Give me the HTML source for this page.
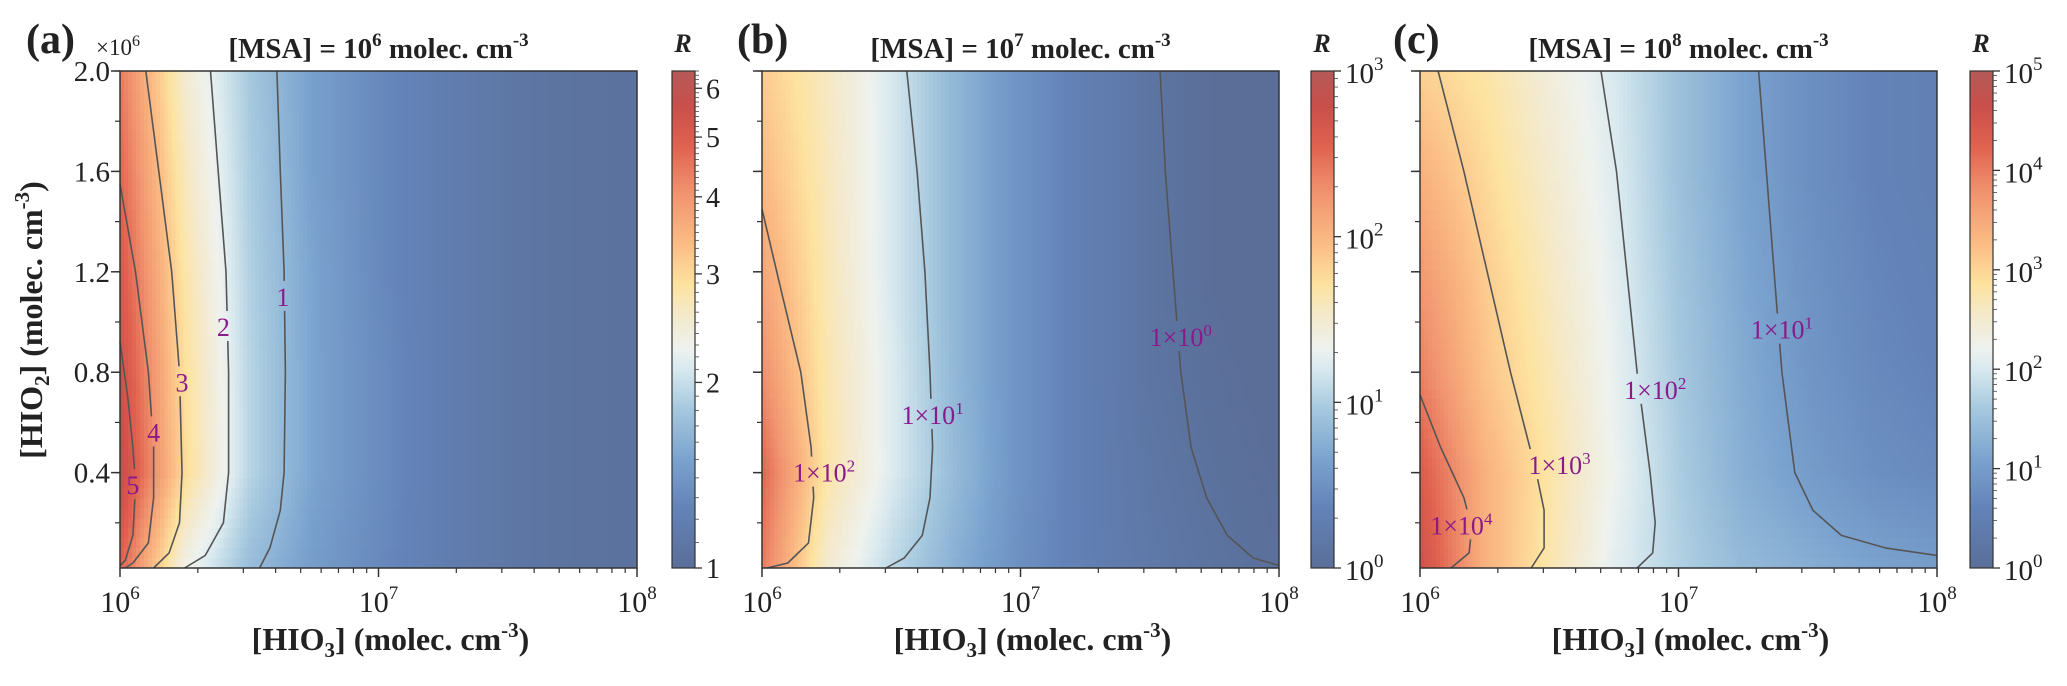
<!DOCTYPE html>
<html><head><meta charset="utf-8">
<style>
html,body{margin:0;padding:0;background:#fff;}
svg{display:block;font-family:"Liberation Serif",serif;}
</style></head>
<body>
<svg id="fig" width="2067" height="686" viewBox="0 0 2067 686" xmlns="http://www.w3.org/2000/svg">
<defs>
<linearGradient id="cmap" x1="0" y1="1" x2="0" y2="0">
<stop offset="0" stop-color="#5a6e98"/><stop offset="0.12" stop-color="#6383b8"/>
<stop offset="0.22" stop-color="#7ba3cf"/><stop offset="0.32" stop-color="#a6c9df"/>
<stop offset="0.40" stop-color="#d8e9ef"/><stop offset="0.44" stop-color="#eef2ef"/>
<stop offset="0.50" stop-color="#f3ead0"/><stop offset="0.57" stop-color="#fde3a0"/>
<stop offset="0.65" stop-color="#fbbd85"/><stop offset="0.75" stop-color="#f19570"/>
<stop offset="0.85" stop-color="#e0614f"/><stop offset="0.93" stop-color="#c94f4b"/>
<stop offset="1" stop-color="#b45a58"/>
</linearGradient>
</defs>
</svg>
<script>
// ---- data ----
const xCols = [6, 6.25, 6.5, 6.75, 7, 7.25, 7.5, 7.75, 8];   // log10 [HIO3]
const yRows = [2.0, 1.6, 1.2, 0.8, 0.4, 0.02];               // [HIO2] x1e6
// field values as fraction of colorbar (log scale) for each panel
const levelA = [
 [.80,.50,.32,.21,.14,.09,.05,.03,.02],
 [.84,.53,.33,.21,.14,.09,.05,.03,.02],
 [.88,.56,.34,.22,.14,.09,.05,.03,.02],
 [.92,.58,.35,.22,.15,.09,.05,.03,.02],
 [.95,.59,.35,.22,.15,.09,.05,.03,.02],
 [.85,.46,.29,.20,.14,.09,.05,.03,.02]];
const levelB = [
 [.62,.52,.40,.27,.17,.10,.04,.00,-.02],
 [.66,.53,.40,.27,.17,.10,.04,.00,-.02],
 [.71,.54,.40,.27,.17,.10,.04,.00,-.02],
 [.76,.55,.41,.27,.17,.10,.04,.01,-.01],
 [.84,.56,.41,.28,.17,.10,.05,.02,.00],
 [.80,.50,.36,.25,.16,.10,.06,.03,.01]];
const levelC = [
 [.61,.56,.48,.40,.30,.22,.16,.12,.10],
 [.68,.59,.50,.41,.30,.22,.16,.12,.10],
 [.74,.62,.52,.42,.31,.23,.17,.13,.11],
 [.79,.64,.54,.43,.32,.24,.18,.14,.12],
 [.87,.68,.56,.44,.33,.25,.20,.16,.14],
 [.92,.68,.55,.42,.34,.28,.25,.22,.20]];
// contour lines [log10 x, y]
const contoursA = [
 [[6.607,2.0],[6.62,1.6],[6.635,1.2],[6.64,0.8],[6.635,0.4],[6.62,0.25],[6.58,0.1],[6.54,0.02]],
 [[6.35,2.0],[6.38,1.6],[6.41,1.2],[6.42,0.8],[6.42,0.4],[6.40,0.2],[6.33,0.07],[6.25,0.02]],
 [[6.10,2.0],[6.15,1.6],[6.20,1.2],[6.23,0.8],[6.24,0.4],[6.23,0.2],[6.19,0.08],[6.13,0.02]],
 [[6.0,1.55],[6.06,1.2],[6.11,0.8],[6.13,0.5],[6.13,0.3],[6.11,0.12],[6.05,0.04],[6.02,0.02]],
 [[6.0,0.92],[6.03,0.7],[6.05,0.5],[6.06,0.35],[6.05,0.15],[6.02,0.05],[6.0,0.03]]];
const contoursB = [
 [[6.0,1.45],[6.08,1.1],[6.15,0.8],[6.19,0.5],[6.2,0.3],[6.18,0.12],[6.1,0.04],[6.02,0.02]],
 [[6.56,2.0],[6.6,1.6],[6.63,1.2],[6.65,0.8],[6.66,0.5],[6.65,0.3],[6.62,0.15],[6.55,0.06],[6.48,0.02]],
 [[7.54,2.0],[7.56,1.6],[7.59,1.2],[7.62,0.8],[7.66,0.5],[7.72,0.3],[7.8,0.15],[7.9,0.06],[8.0,0.03]]];
const contoursC = [
 [[6.0,0.71],[6.08,0.5],[6.17,0.3],[6.2,0.18],[6.19,0.08],[6.12,0.02]],
 [[6.07,2.0],[6.17,1.6],[6.26,1.2],[6.35,0.8],[6.45,0.4],[6.48,0.25],[6.48,0.1],[6.43,0.02]],
 [[6.70,2.0],[6.76,1.6],[6.80,1.2],[6.84,0.8],[6.89,0.4],[6.91,0.2],[6.9,0.08],[6.84,0.02]],
 [[7.31,2.0],[7.34,1.6],[7.37,1.2],[7.40,0.8],[7.45,0.4],[7.52,0.25],[7.63,0.15],[7.8,0.1],[8.0,0.07]]];
const labelTextA = ["1","2","3","4","5"];
const labelPosA = [[6.63,1.10],[6.40,0.98],[6.24,0.76],[6.13,0.56],[6.05,0.35]];
const labelExpB = ["2","1","0"];
const labelPosB = [[6.24,0.40],[6.66,0.63],[7.62,0.94]];
const labelExpC = ["4","3","2","1"];
const labelPosC = [[6.16,0.19],[6.54,0.43],[6.91,0.73],[7.40,0.97]];
const yTicks = [0.4, 0.8, 1.2, 1.6, 2.0];
const xTickExp = [6, 7, 8];
const cbTicksA = [1,2,3,4,5,6];
const cbExpB = [0,1,2,3];
const cbExpC = [0,1,2,3,4,5];

// ---- layout ----
const TOP=71, BOT=568, W=517, YMIN=0.02, YMAX=2.0;
const panels = [
 {id:'a', x0:120, cb:672, lev:levelA, cont:contoursA, cbMax:Math.log10(6.4), lx:26},
 {id:'b', x0:762, cb:1311, lev:levelB, cont:contoursB, cbMax:3, lx:737},
 {id:'c', x0:1420, cb:1970, lev:levelC, cont:contoursC, cbMax:5, lx:1393}];
const NS='http://www.w3.org/2000/svg';
const svg=document.getElementById('fig');
function mk(tag, attrs, parent){const e=document.createElementNS(NS,tag);for(const k in attrs)e.setAttribute(k,attrs[k]);(parent||svg).appendChild(e);return e;}
const stops=[[0,[0x5a,0x6e,0x98]],[.12,[0x63,0x83,0xb8]],[.22,[0x7b,0xa3,0xcf]],[.32,[0xa6,0xc9,0xdf]],[.40,[0xd8,0xe9,0xef]],[.44,[0xee,0xf2,0xef]],[.50,[0xf3,0xea,0xd0]],[.57,[0xfd,0xe3,0xa0]],[.65,[0xfb,0xbd,0x85]],[.75,[0xf1,0x95,0x70]],[.85,[0xe0,0x61,0x4f]],[.93,[0xc9,0x4f,0x4b]],[1,[0xb4,0x5a,0x58]]];
function cmap(t){t=Math.max(0,Math.min(1,t));for(let i=1;i<stops.length;i++){if(t<=stops[i][0]){const a=stops[i-1],b=stops[i],f=(t-a[0])/(b[0]-a[0]);return 'rgb('+a[1].map((v,k)=>Math.round(v+(b[1][k]-v)*f)).join(',')+')';}}return 'rgb(180,90,88)';}
function field(lev,lx,y){
  let ci=(lx-xCols[0])/(xCols[1]-xCols[0]);ci=Math.max(0,Math.min(xCols.length-1.0001,ci));
  let r=0;while(r<yRows.length-2&&y<yRows[r+1])r++;
  let fy=(yRows[r]-y)/(yRows[r]-yRows[r+1]);fy=Math.max(0,Math.min(1,fy));
  const c=Math.floor(ci),fx=ci-c;
  const v0=lev[r][c]+(lev[r][c+1]-lev[r][c])*fx, v1=lev[r+1][c]+(lev[r+1][c+1]-lev[r+1][c])*fx;
  return v0+(v1-v0)*fy;}

panels.forEach(p=>{
  const sx=lx=>p.x0+(lx-6)/2*W;
  const sy=y=>BOT-(y-YMIN)/(YMAX-YMIN)*(BOT-TOP);
  const g=mk('g',{});
  
  
  // heatmap
  const hm=mk('g',{'shape-rendering':'crispEdges'},g);
  
  
  const NC=130, NR=50, cw=W/NC, rh=(BOT-TOP)/NR;
  for(let i=0;i<NC;i++)for(let j=0;j<NR;j++){
    const lx=6+(i+0.5)/NC*2, y=YMAX-(j+0.5)/NR*(YMAX-YMIN);
    mk('rect',{x:(p.x0+i*cw).toFixed(2),y:(TOP+j*rh).toFixed(2),width:(cw+0.6).toFixed(2),height:(rh+0.6).toFixed(2),fill:cmap(field(p.lev,lx,y))},hm);
  }
  // label mask
  const m=mk('mask',{id:'mask'+p.id,maskUnits:'userSpaceOnUse',x:0,y:0,width:2067,height:686});
  mk('rect',{x:0,y:0,width:2067,height:686,fill:'#fff'},m);
  const lp = p.id==='a'?labelPosA:p.id==='b'?labelPosB:labelPosC;
  lp.forEach(q=>{const w=p.id==='a'?18:100;mk('rect',{x:sx(q[0])-w/2,y:sy(q[1])-16,width:w,height:30,fill:'#000'},m);});
  p.cont.forEach((c,k)=>{
    const l=mk('polyline',{points:c.map(q=>sx(q[0]).toFixed(1)+','+sy(q[1]).toFixed(1)).join(' '),fill:'none',stroke:'#555',"stroke-width":1.6,'stroke-linejoin':'round',mask:'url(#mask'+p.id+')'},g);
    
    
  });
  lp.forEach((q,k)=>{
    const t=mk('text',{x:sx(q[0]),y:sy(q[1])+9,'text-anchor':'middle','font-size':26,fill:'#8a1a8a'},g);
    if(p.id==='a'){t.textContent=labelTextA[k];}
    else{const e=p.id==='b'?labelExpB[k]:labelExpC[k];t.textContent='1×10';const s=mk('tspan',{dy:-10,'font-size':17},t);s.textContent=e;}
    
    
  });
  // frame
  const fr=mk('rect',{x:p.x0,y:TOP,width:W,height:BOT-TOP,fill:'none',stroke:'#333','stroke-width':1.5},g);
  
  
  // x ticks
  for(let d=6;d<8;d++)for(let k=2;k<10;k++){const x=sx(d+Math.log10(k));mk('line',{x1:x,x2:x,y1:BOT,y2:BOT+5,stroke:'#333','stroke-width':1.2},g);}
  xTickExp.forEach(e=>{const x=sx(e);mk('line',{x1:x,x2:x,y1:BOT,y2:BOT+9,stroke:'#333','stroke-width':1.5},g);
    const t=mk('text',{x:x,y:612,'text-anchor':'middle','font-size':30,fill:'#222'},g);t.textContent='10';const s=mk('tspan',{dy:-13,'font-size':19},t);s.textContent=e;
    });
  // y ticks
  for(let v=0.2;v<2.0;v+=0.2){const y=sy(v);mk('line',{x1:p.x0-5,x2:p.x0,y1:y,y2:y,stroke:'#333','stroke-width':1.2},g);}
  yTicks.forEach(v=>{const y=sy(v);mk('line',{x1:p.x0-9,x2:p.x0,y1:y,y2:y,stroke:'#333','stroke-width':1.5},g);
    if(p.id==='a'){const t=mk('text',{x:p.x0-10,y:y+10,'text-anchor':'end','font-size':29,fill:'#222'},g);t.textContent=v.toFixed(1);
    }});
  // x axis title
  const xt=mk('text',{x:p.x0+W/2+12,y:650,'text-anchor':'middle','font-size':32,'font-weight':'bold',fill:'#222'},g);
  xt.innerHTML='[HIO<tspan dy="7" font-size="21">3</tspan><tspan dy="-7">] (molec. cm</tspan><tspan dy="-13" font-size="21">-3</tspan><tspan dy="13">)</tspan>';
  
  // panel title
  const tt=mk('text',{x:p.x0+W/2,y:58,'text-anchor':'middle','font-size':29,'font-weight':'bold',fill:'#222'},g);
  tt.innerHTML='[MSA] = 10<tspan dy="-12" font-size="19">'+({a:6,b:7,c:8}[p.id])+'</tspan><tspan dy="12"> molec. cm</tspan><tspan dy="-12" font-size="19">-3</tspan>';
  
  const pl=mk('text',{x:p.lx,y:53,'font-size':42,'font-weight':'bold',fill:'#222'},g);
  pl.textContent='('+p.id+')';
  // colorbar
  const cb=mk('rect',{x:p.cb,y:TOP,width:23,height:BOT-TOP,fill:'url(#cmap)',stroke:'#333','stroke-width':1.2},g);
  
  const cy=lv=>BOT-lv/p.cbMax*(BOT-TOP);
  const rl=mk('text',{x:p.cb+11,y:52,'text-anchor':'middle','font-size':26,'font-weight':'bold','font-style':'italic',fill:'#222'},g);
  rl.textContent='R';
  if(p.id==='a'){
    for(let v=1.1;v<6.4;v+=0.1){const y=cy(Math.log10(v));mk('line',{x1:p.cb+23,x2:p.cb+27,y1:y,y2:y,stroke:'#444','stroke-width':0.8},g);}
    cbTicksA.forEach(v=>{const y=cy(Math.log10(v));mk('line',{x1:p.cb+23,x2:p.cb+30,y1:y,y2:y,stroke:'#333','stroke-width':1.3},g);
      const t=mk('text',{x:p.cb+34,y:y+10,'font-size':28,fill:'#222'},g);t.textContent=v;});
  } else {
    const ex=p.id==='b'?cbExpB:cbExpC;
    for(let d=0;d<p.cbMax;d++)for(let k=2;k<10;k++){const y=cy(d+Math.log10(k));mk('line',{x1:p.cb+23,x2:p.cb+27,y1:y,y2:y,stroke:'#444','stroke-width':0.8},g);}
    ex.forEach(e=>{const y=cy(e);mk('line',{x1:p.cb+23,x2:p.cb+30,y1:y,y2:y,stroke:'#333','stroke-width':1.3},g);
      const t=mk('text',{x:p.cb+34,y:y+12,'font-size':29,fill:'#222'},g);t.textContent='10';const s=mk('tspan',{dy:-13,'font-size':19},t);s.textContent=e;
      });
  }
});
// y axis title and multiplier
const ya=mk('text',{x:0,y:0,'text-anchor':'middle','font-size':32,'font-weight':'bold',fill:'#222',transform:'translate(42,320) rotate(-90)'});
ya.innerHTML='[HIO<tspan dy="7" font-size="21">2</tspan><tspan dy="-7">] (molec. cm</tspan><tspan dy="-13" font-size="21">-3</tspan><tspan dy="13">)</tspan>';

const mul=mk('text',{x:96,y:55,'font-size':23,fill:'#222'});
mul.innerHTML='×10<tspan dy="-9" font-size="16">6</tspan>';

</script>
</body></html>
